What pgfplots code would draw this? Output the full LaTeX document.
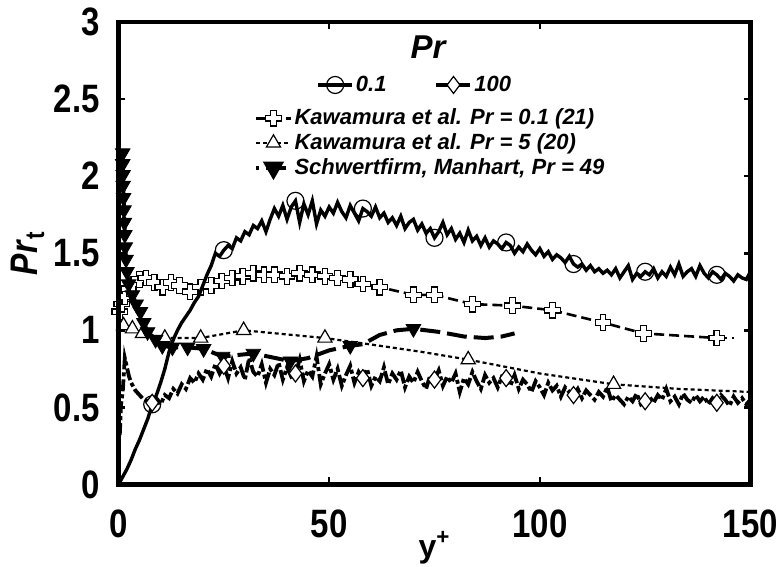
\documentclass[border=0pt]{standalone}
\usepackage{fontspec}
\setmainfont{Liberation Sans}
\usepackage{graphicx}
\usepackage{pgfplots}
\pgfplotsset{compat=1.18}

% tick lettering is a little taller than Arial
\newcommand\vs[1]{\scalebox{1}[1.2]{#1}}

% open plus-shaped mark
\pgfdeclareplotmark{hollowplus}{%
  \pgfpathmoveto{\pgfqpoint{-0.35\pgfplotmarksize}{\pgfplotmarksize}}%
  \pgfpathlineto{\pgfqpoint{0.35\pgfplotmarksize}{\pgfplotmarksize}}%
  \pgfpathlineto{\pgfqpoint{0.35\pgfplotmarksize}{0.35\pgfplotmarksize}}%
  \pgfpathlineto{\pgfqpoint{\pgfplotmarksize}{0.35\pgfplotmarksize}}%
  \pgfpathlineto{\pgfqpoint{\pgfplotmarksize}{-0.35\pgfplotmarksize}}%
  \pgfpathlineto{\pgfqpoint{0.35\pgfplotmarksize}{-0.35\pgfplotmarksize}}%
  \pgfpathlineto{\pgfqpoint{0.35\pgfplotmarksize}{-\pgfplotmarksize}}%
  \pgfpathlineto{\pgfqpoint{-0.35\pgfplotmarksize}{-\pgfplotmarksize}}%
  \pgfpathlineto{\pgfqpoint{-0.35\pgfplotmarksize}{-0.35\pgfplotmarksize}}%
  \pgfpathlineto{\pgfqpoint{-\pgfplotmarksize}{-0.35\pgfplotmarksize}}%
  \pgfpathlineto{\pgfqpoint{-\pgfplotmarksize}{0.35\pgfplotmarksize}}%
  \pgfpathlineto{\pgfqpoint{-0.35\pgfplotmarksize}{0.35\pgfplotmarksize}}%
  \pgfpathclose
  \pgfusepathqfillstroke}

\pgfplotsset{
  base/.style={scale only axis, width=316pt, height=231.25pt,
    xmin=0, xmax=150, ymin=0, ymax=3},
  legfont/.style={legend style={draw=none, fill=none, inner sep=0pt,
    font=\fontsize{11}{12}\selectfont\bfseries\itshape,
    nodes={inner sep=1pt}, row sep=0.9pt}},
  s01/.style={black, line width=1.7pt, solid},
  m01/.style={mark=o, mark size=4.25pt, mark options={solid, draw=black, line width=0.6pt}},
  s100/.style={black, line width=1.9pt, dash pattern=on 6pt off 1.5pt on 2pt off 1.5pt},
  m100/.style={mark=diamond*, mark size=4.25pt, mark options={solid, draw=black, fill=white, line width=0.6pt}},
  sk01/.style={black, line width=1.3pt, dash pattern=on 5pt off 2.5pt},
  mk01/.style={mark=hollowplus, mark size=3.9pt, mark options={solid, draw=black, fill=white, line width=0.6pt}},
  sk5/.style={black, line width=1.1pt, dash pattern=on 2pt off 1.5pt},
  mk5/.style={mark=triangle*, mark size=4.1pt, mark options={solid, draw=black, fill=white, line width=0.6pt}},
  ssm/.style={black, line width=2pt, dash pattern=on 10pt off 3.5pt, dash phase=8.5pt},
  msm/.style={mark=triangle*, mark size=4.2pt, mark options={solid, draw=black, fill=black, rotate=180}},
}

\pgfplotstableread{
x y
0 0.00
1 0.05
2 0.10
3 0.16
4 0.23
5 0.29
6 0.36
7 0.43
8 0.52
9 0.58
10 0.66
11 0.75
12 0.86
13 0.94
14 1.00
15 1.05
16 1.09
17 1.13
18 1.18
19 1.22
20 1.29
21 1.36
22 1.42
23 1.50
24 1.48
25 1.52
26 1.55
27 1.53
28 1.60
29 1.58
30 1.64
31 1.62
32 1.68
33 1.66
34 1.71
35 1.64
36 1.72
37 1.79
38 1.74
39 1.81
40 1.72
41 1.80
42 1.84
43 1.70
44 1.82
45 1.75
46 1.84
47 1.69
48 1.78
49 1.74
50 1.80
51 1.76
52 1.83
53 1.77
54 1.73
55 1.81
56 1.76
57 1.71
58 1.79
59 1.77
60 1.74
61 1.80
62 1.73
63 1.76
64 1.70
65 1.73
66 1.68
67 1.74
68 1.66
69 1.70
70 1.72
71 1.65
72 1.69
73 1.63
74 1.66
75 1.60
76 1.64
77 1.70
78 1.62
79 1.66
80 1.59
81 1.63
82 1.57
83 1.65
84 1.58
85 1.61
86 1.55
87 1.60
88 1.54
89 1.58
90 1.56
91 1.53
92 1.57
93 1.55
94 1.50
95 1.54
96 1.51
97 1.56
98 1.52
99 1.49
100 1.53
101 1.48
102 1.51
103 1.46
104 1.49
105 1.47
106 1.44
107 1.48
108 1.43
109 1.41
110 1.43
111 1.39
112 1.42
113 1.38
114 1.40
115 1.37
116 1.39
117 1.36
118 1.40
119 1.34
120 1.38
121 1.42
122 1.33
123 1.37
124 1.35
125 1.38
126 1.36
127 1.40
128 1.34
129 1.38
130 1.35
131 1.41
132 1.36
133 1.43
134 1.35
135 1.38
136 1.40
137 1.35
138 1.42
139 1.37
140 1.34
141 1.38
142 1.36
143 1.33
144 1.37
145 1.35
146 1.32
147 1.36
148 1.34
149 1.33
150 1.38
}\prA

\pgfplotstableread{
x y
0.3 0.32
0.6 0.52
1.0 0.60
1.5 0.82
2.0 0.76
2.5 0.70
3.0 0.66
4.0 0.61
5.0 0.58
6.0 0.55
7.0 0.54
8 0.53
9 0.55
10 0.52
11 0.58
12 0.56
13 0.62
14 0.59
15 0.65
16 0.62
17 0.69
18 0.66
19 0.72
20 0.68
21 0.75
22 0.70
23 0.78
24 0.72
25 0.77
26 0.69
27 0.80
28 0.72
29 0.76
30 0.68
31 0.82
32 0.73
33 0.70
34 0.78
35 0.66
36 0.75
37 0.71
38 0.79
39 0.68
40 0.76
41 0.70
42 0.72
43 0.81
44 0.67
45 0.74
46 0.70
47 0.83
48 0.65
49 0.72
50 0.78
51 0.68
52 0.75
53 0.64
54 0.71
55 0.77
56 0.66
57 0.73
58 0.69
59 0.75
60 0.64
61 0.70
62 0.67
63 0.76
64 0.65
65 0.72
66 0.68
67 0.74
68 0.63
69 0.70
70 0.66
71 0.73
72 0.67
73 0.62
74 0.71
75 0.68
76 0.74
77 0.64
78 0.70
79 0.66
80 0.72
81 0.60
82 0.69
83 0.65
84 0.73
85 0.67
86 0.62
87 0.71
88 0.66
89 0.69
90 0.63
91 0.70
92 0.69
93 0.64
94 0.71
95 0.62
96 0.68
97 0.65
98 0.60
99 0.67
100 0.63
101 0.58
102 0.66
103 0.61
104 0.64
105 0.57
106 0.63
107 0.60
108 0.58
109 0.62
110 0.56
111 0.61
112 0.58
113 0.55
114 0.60
115 0.57
116 0.63
117 0.54
118 0.58
119 0.55
120 0.52
121 0.57
122 0.54
123 0.59
124 0.52
125 0.54
126 0.57
127 0.53
128 0.58
129 0.55
130 0.62
131 0.54
132 0.57
133 0.52
134 0.59
135 0.55
136 0.53
137 0.58
138 0.54
139 0.57
140 0.52
141 0.56
142 0.53
143 0.58
144 0.55
145 0.51
146 0.57
147 0.53
148 0.56
149 0.52
150 0.55
}\prB

\begin{document}
\begin{tikzpicture}
\path[use as bounding box] (-59.25pt,-41.25pt) rectangle (331.75pt,242.25pt);

% other studies: Kawamura et al., Schwertfirm & Manhart
\begin{axis}[base, hide axis, legfont,
  legend cell align=left,
  legend style={at={(axis description cs:0.2144,0.7384)}, anchor=west}]
\addplot[sk01, mk01] coordinates {
  (0.3,1.12) (0.8,1.17) (1.5,1.22) (2.5,1.27) (3.5,1.30) (5,1.33) (6.5,1.34)
  (8.5,1.31) (10.5,1.28) (12.5,1.31) (14.5,1.29) (17,1.25) (19.5,1.28)
  (22,1.29) (24.5,1.32) (27,1.34) (29.5,1.35) (32,1.37) (34.5,1.36) (37,1.36)
  (40,1.35) (43,1.37) (46,1.36) (49,1.35) (52,1.34) (55,1.33) (58,1.30)
  (62,1.28) (70,1.23) (75,1.23) (84,1.17) (93.5,1.16) (103,1.13) (115,1.05)
  (124.6,0.98) (142,0.95)};
\addlegendentry{Kawamura et al. Pr = 0.1 (21)}
\addplot[sk01, forget plot] coordinates {(142,0.95) (146,0.95)};
\addplot[sk5, forget plot] coordinates {
  (1.2,1.03) (3.3,1.01) (5.7,0.98) (11,0.95) (19.5,0.95) (29.7,1.00) (49,0.95)
  (62,0.90) (72,0.86) (83,0.81) (100,0.72) (117.5,0.65) (133,0.62) (150,0.60)};
\addplot[only marks, mk5, forget plot] coordinates {
  (1.2,1.03) (3.3,1.01) (5.7,0.98) (11,0.95) (19.5,0.95) (29.7,1.00) (49,0.95)
  (83,0.81) (117.5,0.65)};
\addlegendimage{sk5, mk5}
\addlegendentry{Kawamura et al. Pr = 5 (20)}
\addplot[ssm, forget plot] coordinates {
  (1.0,2.15) (1.0,2.08) (1.1,2.01) (1.1,1.94) (1.2,1.86) (1.3,1.78) (1.4,1.70)
  (1.5,1.62) (1.6,1.54) (1.8,1.46) (2.0,1.38) (2.4,1.30) (3.3,1.23) (4.2,1.17)
  (5.2,1.12) (6.0,1.05) (6.9,0.99) (8.8,0.94) (10.4,0.90) (12.8,0.89)
  (16.4,0.89) (20.2,0.88) (24.7,0.83) (32,0.85) (40.8,0.80) (45,0.82) (50,0.87)
  (55,0.90) (58,0.91) (62,0.97) (66,1.00) (70,1.01) (76,0.99) (82,0.96)
  (87,0.95) (91,0.96) (94,0.98)};
\addplot[only marks, msm, forget plot] coordinates {
  (1.0,2.15) (1.0,2.08) (1.1,2.01) (1.1,1.94) (1.2,1.86) (1.3,1.78) (1.4,1.70)
  (1.5,1.62) (1.6,1.54) (1.8,1.46) (2.0,1.38) (2.4,1.30) (3.3,1.23) (4.2,1.17)
  (5.2,1.12) (6.0,1.05) (6.9,0.99) (8.8,0.94) (10.4,0.90) (12.8,0.89)
  (16.4,0.89) (20.2,0.88) (24.7,0.83) (32,0.85) (40.8,0.80) (55,0.90) (70,1.01)};
\addlegendimage{ssm, msm}
\addlegendentry{Schwertfirm, Manhart, Pr = 49}
\end{axis}

% present results, frame and ticks
\begin{axis}[base, legfont,
  axis line style={line width=2.4pt},
  tick align=inside, major tick length=3.5pt,
  tick style={black, line width=1.3pt},
  xtick={0,50,100,150}, xticklabels={\vs{0},\vs{50},\vs{100},\vs{150}},
  ytick={0,0.5,1,1.5,2,2.5,3},
  yticklabels={\vs{0},\vs{0.5},\vs{1},\vs{1.5},\vs{2},\vs{2.5},\vs{3}},
  minor tick num=0,
  ticklabel style={font=\fontsize{16.5}{19}\selectfont\bfseries, inner sep=0pt},
  xticklabel style={yshift=-12.5pt},
  yticklabel style={xshift=-9.25pt},
  xlabel={y\textsuperscript{+}},
  xlabel style={at={(axis description cs:0.5,-0.1568)}, anchor=base,
    font=\fontsize{16}{19}\selectfont\bfseries},
  ylabel={\vs{\textit{Pr}\textsubscript{t}}},
  ylabel style={at={(axis description cs:-0.1274,0.5)}, anchor=base,
    font=\fontsize{16}{19}\selectfont\bfseries},
  legend columns=2,
  legend style={at={(axis description cs:0.3125,0.8638)}, anchor=west,
    /tikz/every even column/.append style={column sep=23pt}}]
\addplot[s01, forget plot] table {\prA};
\addplot[only marks, m01, forget plot] coordinates {
  (8,0.52) (25,1.52) (42,1.84) (58,1.79) (75,1.60) (92,1.57) (108,1.43)
  (125,1.38) (142,1.36)};
\addlegendimage{s01, m01}
\addlegendentry{0.1}
\addplot[s100, forget plot] table {\prB};
\addplot[only marks, m100, forget plot] coordinates {
  (8,0.53) (25,0.77) (42,0.72) (58,0.69) (75,0.68) (92,0.69) (108,0.58)
  (125,0.54) (142,0.53)};
\addlegendimage{s100, m100}
\addlegendentry{100}
\node[font=\fontsize{16.5}{19}\selectfont\bfseries\itshape, anchor=base]
  at (axis description cs:0.4897,0.922) {Pr};
\end{axis}
\end{tikzpicture}
\end{document}
